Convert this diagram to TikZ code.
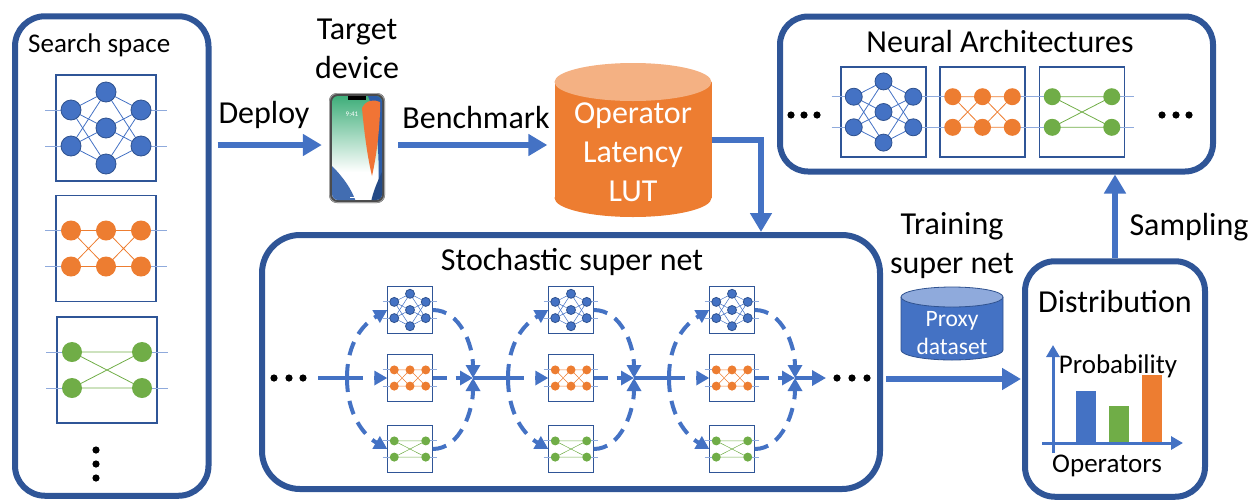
\documentclass[tikz,border=0pt]{standalone}
\usepackage{fontspec}
\setmainfont{Carlito}
\usepackage{tikz}
\usetikzlibrary{positioning,shapes.geometric,arrows.meta}

\definecolor{panelblue} {HTML}{2F5597}
\definecolor{arrowblue} {HTML}{4472C4}
\definecolor{nodeblue}  {HTML}{4472C4}
\definecolor{nodeedge}  {HTML}{2F528F}
\definecolor{lightblue} {HTML}{8FAADC}
\definecolor{oporange}  {HTML}{ED7D31}
\definecolor{orangetop} {HTML}{F4B183}
\definecolor{opgreen}   {HTML}{70AD47}
\definecolor{scrgreen}  {HTML}{3FAE7A}
\definecolor{scrblue}   {HTML}{2D5DA8}
\definecolor{scrorange} {HTML}{F0641E}

\newcommand\fbig{\fontsize{32}{39}\selectfont}
\newcommand\fmid{\fontsize{27}{32}\selectfont}
\newcommand\fsmall{\fontsize{23.5}{28}\selectfont}

\tikzset{
  % --- containers
  panel/.style  = {draw=panelblue, line width=6pt, rounded corners=30pt, inner sep=0pt},
  opbox/.style  = {minimum width=45pt, minimum height=48pt, inner sep=0pt},
  netbox/.style = {draw=panelblue, line width=1.3pt},
  % --- text
  big/.style    = {font=\fbig, inner sep=0pt},
  mid/.style    = {font=\fmid, inner sep=0pt},
  % --- edges
  flow/.style   = {draw=arrowblue, line width=6pt, -{Triangle[length=19pt,width=21pt]}},
  wire/.style   = {draw=arrowblue, line width=4pt},
  choice/.style = {wire, dash pattern=on 14pt off 9pt, -{Triangle[length=13pt,width=14pt]}},
  axis/.style   = {draw=arrowblue, line width=3pt, -{Triangle[length=12pt,width=13pt]}},
  link/.style   = {line width=0.8pt},
  stub/.style   = {draw=lightblue, line width=1pt},
  % --- operator cells
  pics/bluenet/.style={code={
    \draw[netbox] (-50,-53) rectangle (50,53);
    \foreach \a in {-18,18} {
      \draw[stub] (-61,\a) -- (-35,\a) (35,\a) -- (61,\a);
      \foreach \b in {-36,0,36}
        \draw[link, nodeblue] (-35,\a) -- (0,\b) -- (35,\a);
    }
    \foreach \x/\y in {-35/-18,-35/18,0/-36,0/0,0/36,35/-18,35/18}
      \filldraw[fill=nodeblue, draw=nodeedge, line width=.8pt] (\x,\y) circle (10);
  }},
  pics/orangenet/.style={code={
    \draw[netbox] (-50,-53) rectangle (50,53);
    \draw[stub] (-61,-18) -- (-35,-18) (-61,18) -- (-35,18)
                (35,-18) -- (61,-18) (35,18) -- (61,18);
    \foreach \x in {-35,0}
      \draw[link, oporange] (\x,-18) -- (\x+35,-18) (\x,18) -- (\x+35,18)
                            (\x,-18) -- (\x+35,18) (\x,18) -- (\x+35,-18);
    \foreach \x in {-35,0,35} \foreach \y in {-18,18}
      \fill[oporange] (\x,\y) circle (10);
  }},
  pics/greennet/.style={code={
    \draw[netbox] (-50,-53) rectangle (50,53);
    \draw[stub] (-61,-18) -- (-35,-18) (-61,18) -- (-35,18)
                (35,-18) -- (61,-18) (35,18) -- (61,18);
    \draw[link, opgreen] (-35,-18) -- (35,-18) (-35,18) -- (35,18)
                         (-35,-18) -- (35,18) (-35,18) -- (35,-18);
    \foreach \x in {-35,35} \foreach \y in {-18,18}
      \fill[opgreen] (\x,\y) circle (10);
  }},
}

\begin{document}
\begin{tikzpicture}[x=1pt,y=-1pt]
  \useasboundingbox (0,0) rectangle (1255,499);
  \coordinate (row) at (0,145);

  % search space
  \node[panel, minimum width=193.5pt, minimum height=479.5pt] (search) at (111.75,256) {};
  \node[mid, anchor=base west] (searchttl) at (28,52) {Search space};
  \pic at (106,128) {bluenet};
  \pic at (106,248.5) {orangenet};
  \pic at (107,370) {greennet};
  \foreach \y in {450,464,478} \fill (96,\y) circle (3.6);

  % target device
  \node[big, align=center, anchor=base] (devttl) at (357,78) {Target\\device};
  \node[minimum width=56pt, minimum height=110pt, inner sep=0pt] (phone) at (357,148) {};
  \fill[black!70, rounded corners=8pt] (329,93) rectangle (385,203);
  \draw[black!35, line width=.8pt, rounded corners=8pt] (329.5,93.5) rectangle (384.5,202.5);
  \begin{scope}
    \clip[rounded corners=6pt] (332,96) rectangle (382,200);
    \shade[top color=scrgreen, bottom color=white] (332,96) rectangle (382,172);
    \fill[white] (332,172) rectangle (382,200);
    \fill[scrblue] (368,96) .. controls (378,120) and (380,160) .. (378,202) -- (384,202) -- (384,96) -- cycle;
    \fill[scrorange!90!white] (362,108) .. controls (364,130) and (367,155) .. (372,176)
      .. controls (376,158) and (379,136) .. (380,112) -- (380,102)
      .. controls (374,99) and (366,100) .. (362,108) -- cycle;
    \fill[scrblue!90] (332,166) .. controls (344,178) and (352,190) .. (356,202) -- (332,202) -- cycle;
    \fill[scrblue!80!black] (384,168) .. controls (377,182) and (373,192) .. (371,202) -- (384,202) -- cycle;
    \fill[black] (348,95) rectangle (366,100);
    \draw[white, line width=.8pt] (350,197) -- (364,197);
  \end{scope}
  \node[font=\fontsize{7}{8}\selectfont, text=white, inner sep=0pt] (clock) at (352,114) {9:41};

  \draw[flow, shorten <=6pt, shorten >=7pt] (search.east |- row) -- (phone.west |- row);
  \node[big, anchor=base] (deploy) at (264,123) {Deploy};

  % latency table
  \node[minimum width=157pt, minimum height=154pt, inner sep=0pt] (lut) at (633,140) {};
  \fill[oporange] (554.5,82) rectangle (711.5,198);
  \fill[oporange] (633,198) ellipse [x radius=78.5, y radius=19];
  \fill[orangetop] (633,82) ellipse [x radius=78.5, y radius=19];
  \node[big, align=center, text=white] (luttxt) at (633,152) {Operator\\Latency\\LUT};
  \draw[flow, shorten <=13pt, shorten >=7pt] (phone.east |- row) -- (lut.west |- row);
  \node[big, anchor=base] (bench) at (476,128) {Benchmark};

  % stochastic super net
  \node[panel, rounded corners=38pt, minimum width=618pt, minimum height=254pt] (supernet) at (571,362) {};
  \node[big, anchor=base] (superttl) at (572,270) {Stochastic super net};
  \draw[flow] (lut.east) -| ([xshift=190pt]supernet.north);

  \foreach \x in {274,289,303} \fill (\x,378) circle (3.6);
  \coordinate (out0) at (318,378);
  \foreach \i/\cx [count=\j from 0] in {1/410,2/571,3/732} {
    \node[opbox] (a\i) at (\cx,310) {};
    \node[opbox] (b\i) at (\cx,378) {};
    \node[opbox] (c\i) at (\cx,449) {};
    \pic[scale=.45, link/.append style={line width=.5pt}, netbox/.append style={line width=1pt}] at (a\i) {bluenet};
    \pic[scale=.45, link/.append style={line width=.5pt}, netbox/.append style={line width=1pt}] at (b\i) {orangenet};
    \pic[scale=.45, link/.append style={line width=.5pt}, netbox/.append style={line width=1pt}] at (c\i) {greennet};
    \coordinate (in\i) at (\cx-63,378);
    \coordinate (out\i) at (\cx+63,378);
    \draw[wire] (out\j) -- ([xshift=16pt]in\i);
    \draw[choice] (in\i) .. controls +(0,-36) and +(-24,14) .. (a\i.west);
    \draw[choice] (in\i) .. controls +(0,36) and +(-24,-14) .. (c\i.west);
    \draw[choice, shorten <=27pt] (in\i) -- (b\i.west);
    \draw[choice] (a\i.east) .. controls +(28,0) and +(0,-32) .. (out\i);
    \draw[choice] (c\i.east) .. controls +(28,0) and +(0,32) .. (out\i);
    \draw[choice] (b\i.east) -- (out\i);
  }
  \coordinate (tail) at (826,378);
  \draw[wire, -{Triangle[length=14pt,width=15pt]}] (out3) -- (tail);
  \foreach \x in {837,852,867} \fill (\x,378) circle (3.6);

  % training on proxy data
  \node[panel, minimum width=180pt, minimum height=235.5pt] (dist) at (1115,379) {};
  \node[big, align=center, anchor=base] (trainttl) at (952,273) {Training\\super net};
  \node[minimum width=102pt, minimum height=73pt, inner sep=0pt] (proxy) at (952,323.5) {};
  \filldraw[fill=nodeblue, draw=nodeedge, line width=.8pt]
    (901,297) -- (901,350) arc[start angle=180, end angle=0, x radius=51, y radius=10] -- (1003,297);
  \filldraw[fill=lightblue, draw=nodeedge, line width=.8pt] (952,297) ellipse [x radius=51, y radius=10];
  \node[font=\fsmall, align=center, text=white, inner sep=0pt] (proxytxt) at (952,333) {Proxy\\dataset};
  \draw[flow, shorten <=3pt, shorten >=1pt] (supernet.east |- dist.west) -- (dist.west);

  % distribution over operators
  \node[big, anchor=base] (distttl) at (1115,312) {Distribution};
  \fill[nodeblue] (1076,391) rectangle (1096,443);
  \fill[opgreen]  (1109,406) rectangle (1129,443);
  \fill[oporange] (1142,375) rectangle (1162,443);
  \draw[axis] (1053,453) -- (1053,345);
  \draw[axis] (1042,443) -- (1183,443);
  \node[mid, anchor=base] (probttl) at (1118,373) {Probability};
  \node[mid, anchor=base] (opttl) at (1107,472) {Operators};

  % sampled architectures
  \node[panel, rounded corners=28pt, minimum width=433pt, minimum height=155pt] (neural) at (996.5,94) {};
  \node[big, anchor=base] (neuralttl) at (1000,52) {Neural Architectures};
  \pic[scale=.85] at (883.5,112) {bluenet};
  \pic[scale=.85] at (982.5,112) {orangenet};
  \pic[scale=.85] at (1082,112) {greennet};
  \foreach \x in {791,804,817,1162,1176,1189} \fill (\x,115) circle (3.6);
  \draw[flow] (dist.north) -- (dist.north |- neural.south);
  \node[big, anchor=base] (sampling) at (1189,235) {Sampling};
\end{tikzpicture}
\end{document}
